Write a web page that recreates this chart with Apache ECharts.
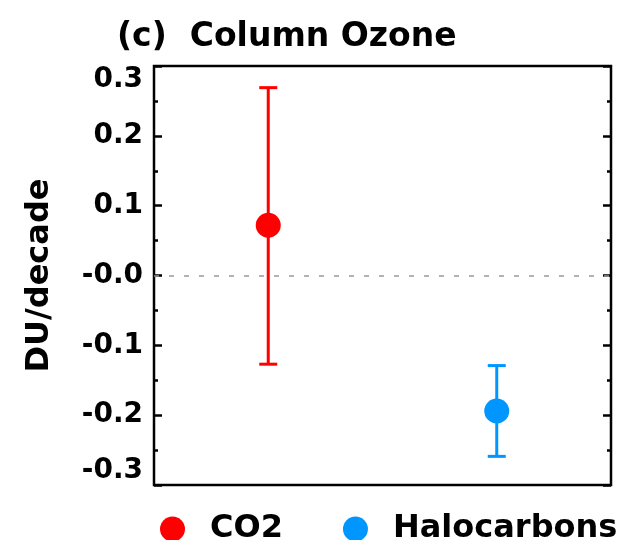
<!DOCTYPE html>
<html>
<head>
<meta charset="utf-8">
<script src="https://cdn.jsdelivr.net/npm/echarts@6/dist/echarts.min.js"></script>
<style>
html,body{margin:0;padding:0;background:#fff;}
#chart{width:621px;height:540px;}
</style>
</head>
<body>
<div id="chart"></div>
<script>
var categories = ['CO2', 'Halocarbons'];
var means = [0.072, -0.194];
var lows = [-0.127, -0.259];
var highs = [0.269, -0.129];
var colors = ['#ff0000', '#0096ff'];
var yTicks = { min: -0.3, max: 0.3, interval: 0.1 };

var FONT = 'DejaVu Sans';

function fmt(v) {
  if (Math.abs(v) < 1e-9) return '-0.0';
  return v.toFixed(1);
}

var yAxisCommon = {
  type: 'value',
  min: yTicks.min,
  max: yTicks.max,
  interval: yTicks.interval,
  splitLine: { show: false },
  axisLine: { show: false },
  axisTick: { show: true, inside: true, length: 8, lineStyle: { color: '#000', width: 2.5 } },
  minorTick: { show: true, splitNumber: 2, length: 4, lineStyle: { color: '#000', width: 2.5 } }
};

var scatterSeries = categories.map(function (c, i) {
  return {
    name: c,
    type: 'scatter',
    symbol: 'circle',
    symbolSize: 25,
    z: 5,
    itemStyle: { color: colors[i], opacity: 1 },
    data: [[c, means[i]]]
  };
});

var errorSeries = categories.map(function (c, i) {
  return {
    name: c,
    type: 'custom',
    z: 3,
    itemStyle: { color: colors[i] },
    data: [[c, lows[i], highs[i]]],
    renderItem: function (params, api) {
      var x = api.value(0);
      var lo = api.coord([x, api.value(1)]);
      var hi = api.coord([x, api.value(2)]);
      var hw = 9;
      var st = { stroke: colors[i], lineWidth: 3, fill: null };
      return {
        type: 'group',
        children: [
          { type: 'line', shape: { x1: lo[0], y1: lo[1], x2: hi[0], y2: hi[1] }, style: st },
          { type: 'line', shape: { x1: lo[0] - hw, y1: lo[1], x2: lo[0] + hw, y2: lo[1] }, style: st },
          { type: 'line', shape: { x1: hi[0] - hw, y1: hi[1], x2: hi[0] + hw, y2: hi[1] }, style: st }
        ]
      };
    }
  };
});

var zeroLine = {
  name: 'zero',
  type: 'line',
  data: [],
  markLine: {
    silent: true,
    symbol: ['none', 'none'],
    label: { show: false },
    lineStyle: { color: '#999', type: [5, 10], width: 1.5 },
    data: [{ yAxis: 0 }]
  }
};

var chart = echarts.init(document.getElementById('chart'), null, { renderer: 'canvas' });
chart.setOption({
  animation: false,
  backgroundColor: '#fff',
  title: {
    text: '(c)  Column Ozone',
    left: 112,
    top: 16,
    textStyle: { fontFamily: FONT, fontWeight: 'bold', fontSize: 33, color: '#000' }
  },
  legend: {
    data: categories.map(function (c, i) {
      return { name: c, icon: 'circle', itemStyle: { color: colors[i] } };
    }),
    left: 160,
    top: 513,
    padding: 0,
    itemWidth: 25,
    itemHeight: 25,
    itemGap: 60,
    textStyle: { fontFamily: FONT, fontWeight: 'bold', fontSize: 32, color: '#000', padding: [0, 0, 0, 20] }
  },
  grid: {
    left: 154,
    right: 10,
    top: 66,
    bottom: 55,
    show: true,
    borderColor: '#000',
    borderWidth: 2.5,
    backgroundColor: 'transparent'
  },
  xAxis: {
    type: 'category',
    data: categories,
    boundaryGap: true,
    axisLine: { show: false },
    axisTick: { show: false },
    axisLabel: { show: false },
    splitLine: { show: false }
  },
  yAxis: [
    Object.assign({}, yAxisCommon, {
      position: 'left',
      name: 'DU/decade',
      nameLocation: 'middle',
      nameRotate: 90,
      nameGap: 98,
      nameTextStyle: { fontFamily: FONT, fontWeight: 'bold', fontSize: 32, color: '#000' },
      axisLabel: {
        show: true,
        margin: 11,
        formatter: fmt,
        fontFamily: FONT,
        fontWeight: 'bold',
        fontSize: 28,
        color: '#000',
        verticalAlignMinLabel: 'bottom',
        verticalAlignMaxLabel: 'top'
      }
    }),
    Object.assign({}, yAxisCommon, {
      position: 'right',
      axisLabel: { show: false }
    })
  ],
  series: [zeroLine].concat(errorSeries, scatterSeries)
});
</script>
</body>
</html>
